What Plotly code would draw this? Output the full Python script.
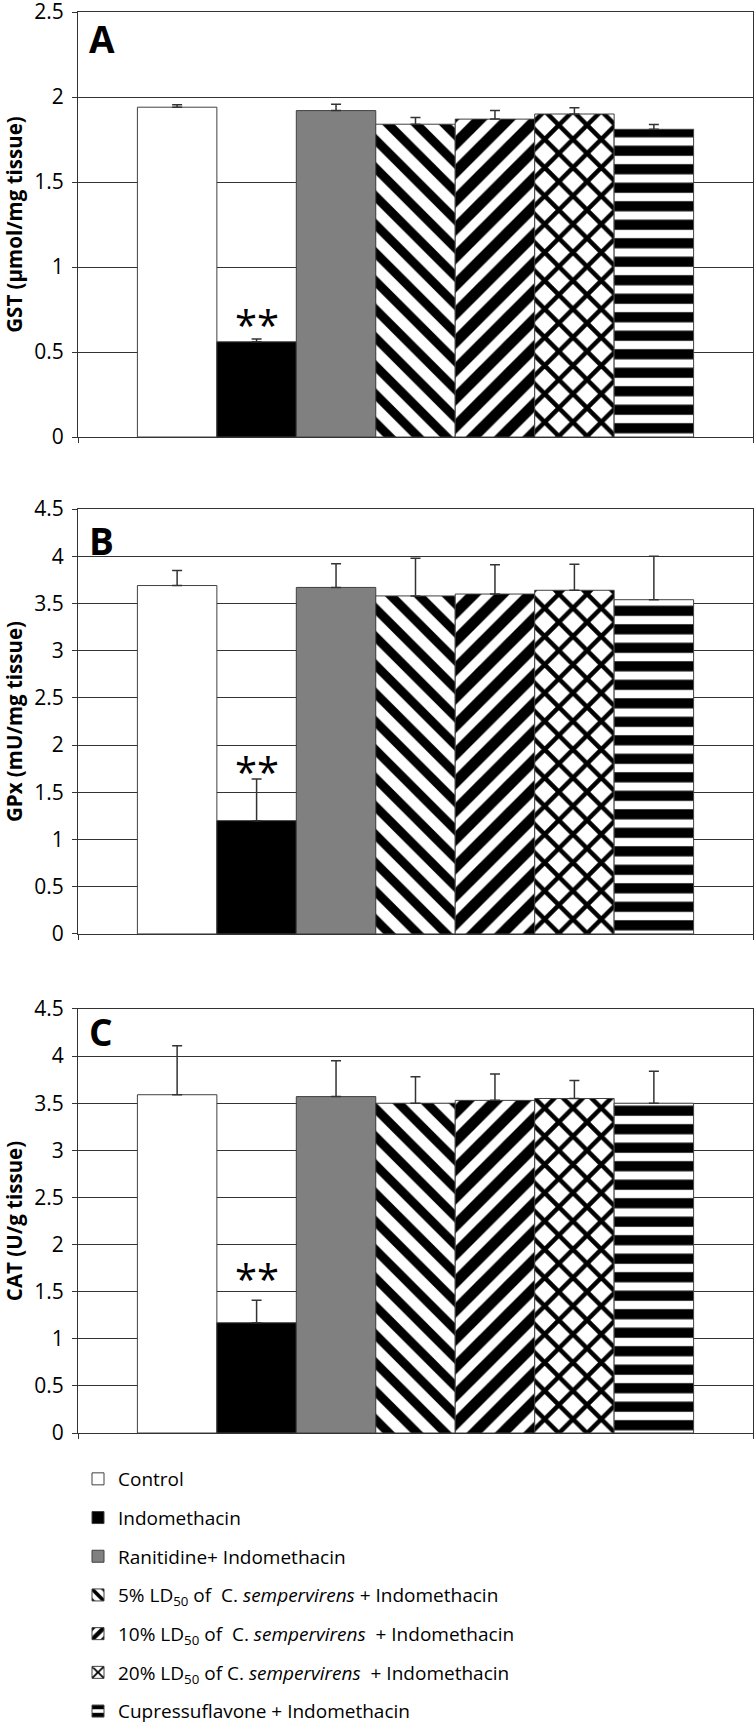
import plotly.graph_objects as go

# ---------------- data ----------------
groups = [
    "Control",
    "Indomethacin",
    "Ranitidine+ Indomethacin",
    "5% LD<sub>50</sub> of  C. <i>sempervirens</i> + Indomethacin",
    "10% LD<sub>50</sub> of  C. <i>sempervirens</i>  + Indomethacin",
    "20% LD<sub>50</sub> of C. <i>sempervirens</i>  + Indomethacin",
    "Cupressuflavone + Indomethacin",
]
gst = [1.94, 0.56, 1.92, 1.84, 1.87, 1.90, 1.81]
gst_err = [0.015, 0.017, 0.037, 0.039, 0.05, 0.037, 0.029]
gpx = [3.69, 1.20, 3.67, 3.58, 3.60, 3.64, 3.54]
gpx_err = [0.16, 0.44, 0.25, 0.40, 0.31, 0.275, 0.46]
cat = [3.59, 1.17, 3.57, 3.50, 3.53, 3.55, 3.50]
cat_err = [0.52, 0.24, 0.38, 0.28, 0.28, 0.19, 0.34]

panel_values = [gst, gpx, cat]
panel_errors = [gst_err, gpx_err, cat_err]
panel_titles = ["GST (µmol/mg tissue)", "GPx (mU/mg tissue)", "CAT (U/g tissue)"]
panel_letters = ["A", "B", "C"]
panel_ymax = [2.5, 4.5, 4.5]
star_y = [0.66, 1.72, 1.64]
star_group = 1

# ---------------- styles ----------------
FONT = "Open Sans"
fills = ["white", "black", "#808080", "white", "white", "white", "white"]
pat_shapes = ["", "", "", "\\", "/", "x", "-"]
pat_sizes = [8, 8, 8, 20, 20, 20, 18.5]
pat_solid = [0.3, 0.3, 0.3, 0.45, 0.55, 0.4, 0.55]
domains = [[0.7009, 1.0], [0.3512, 0.6502], [0.0, 0.2984]]
letter_y = [0.937, 0.926, 0.946]
bargap = 0.176

fig = go.Figure()
for p in range(3):
    xa = "x" if p == 0 else f"x{p+1}"
    ya = "y" if p == 0 else f"y{p+1}"
    for i, g in enumerate(groups):
        fig.add_trace(go.Bar(
            x=[0], y=[panel_values[p][i]], name=g,
            legendgroup=g, showlegend=(p == 0),
            xaxis=xa, yaxis=ya,
            marker=dict(
                color=fills[i],
                line=dict(color="#404040", width=1),
                pattern=dict(shape=pat_shapes[i], size=pat_sizes[i],
                             solidity=pat_solid[i], fgcolor="black",
                             bgcolor="white", fgopacity=1),
            ),
            error_y=dict(type="data", symmetric=False,
                         array=[panel_errors[p][i]], arrayminus=[0],
                         color="#333333", thickness=1.5, width=5),
        ))

gw = 1 - bargap
bw = gw / len(groups)
star_x = -gw / 2 + (star_group + 0.5) * bw

layout = dict(
    width=755, height=1724,
    margin=dict(l=78, r=2, t=12, b=291, autoexpand=False),
    paper_bgcolor="white", plot_bgcolor="white",
    barmode="group", bargap=bargap, bargroupgap=0,
    font=dict(family=FONT, color="black", size=21),
    showlegend=True,
    legend=dict(x=0.0, xanchor="left", y=-0.019, yanchor="top",
                font=dict(family=FONT, size=19, color="black"),
                tracegroupgap=11, bgcolor="rgba(0,0,0,0)"),
    annotations=[],
)
for p in range(3):
    sx = "" if p == 0 else str(p + 1)
    layout["xaxis" + sx] = dict(
        domain=[0, 1], anchor="y" + sx, range=[-0.5, 0.5], automargin=False,
        tickvals=[-0.5, 0.5], ticks="outside", ticklen=5, tickcolor="#333",
        showticklabels=False, showgrid=False, zeroline=False,
        showline=True, linecolor="#333", linewidth=1, mirror=True,
    )
    layout["yaxis" + sx] = dict(
        domain=domains[p], anchor="x" + sx, range=[0, panel_ymax[p]],
        automargin=False, ticklabeloverflow="allow",
        dtick=0.5, tick0=0, ticks="outside", ticklen=5, tickcolor="#333",
        tickfont=dict(family=FONT, size=21, color="black"),
        ticklabelstandoff=4,
        showgrid=True, gridcolor="#333", gridwidth=1, zeroline=False,
        showline=True, linecolor="#333", linewidth=1, mirror=True,
        title=dict(text="<b>" + panel_titles[p] + "</b>", standoff=16,
                   font=dict(family=FONT, size=20.5, color="black")),
    )
    layout["annotations"].append(dict(
        text="<b>" + panel_letters[p] + "</b>", xref="x" + sx + " domain",
        yref="y" + sx + " domain", x=0.014, y=letter_y[p], xanchor="left",
        yanchor="middle", showarrow=False,
        font=dict(family=FONT, size=37, color="black")))
    layout["annotations"].append(dict(
        text="**", xref="x" + sx, yref="y" + sx, x=star_x, y=star_y[p],
        xanchor="center", yanchor="middle", showarrow=False,
        font=dict(family=FONT, size=40, color="black")))

fig.update_layout(**layout)
fig.write_html("out.html", config={"displayModeBar": False},
               post_script="document.body.style.margin='0';document.body.style.padding='0';")
